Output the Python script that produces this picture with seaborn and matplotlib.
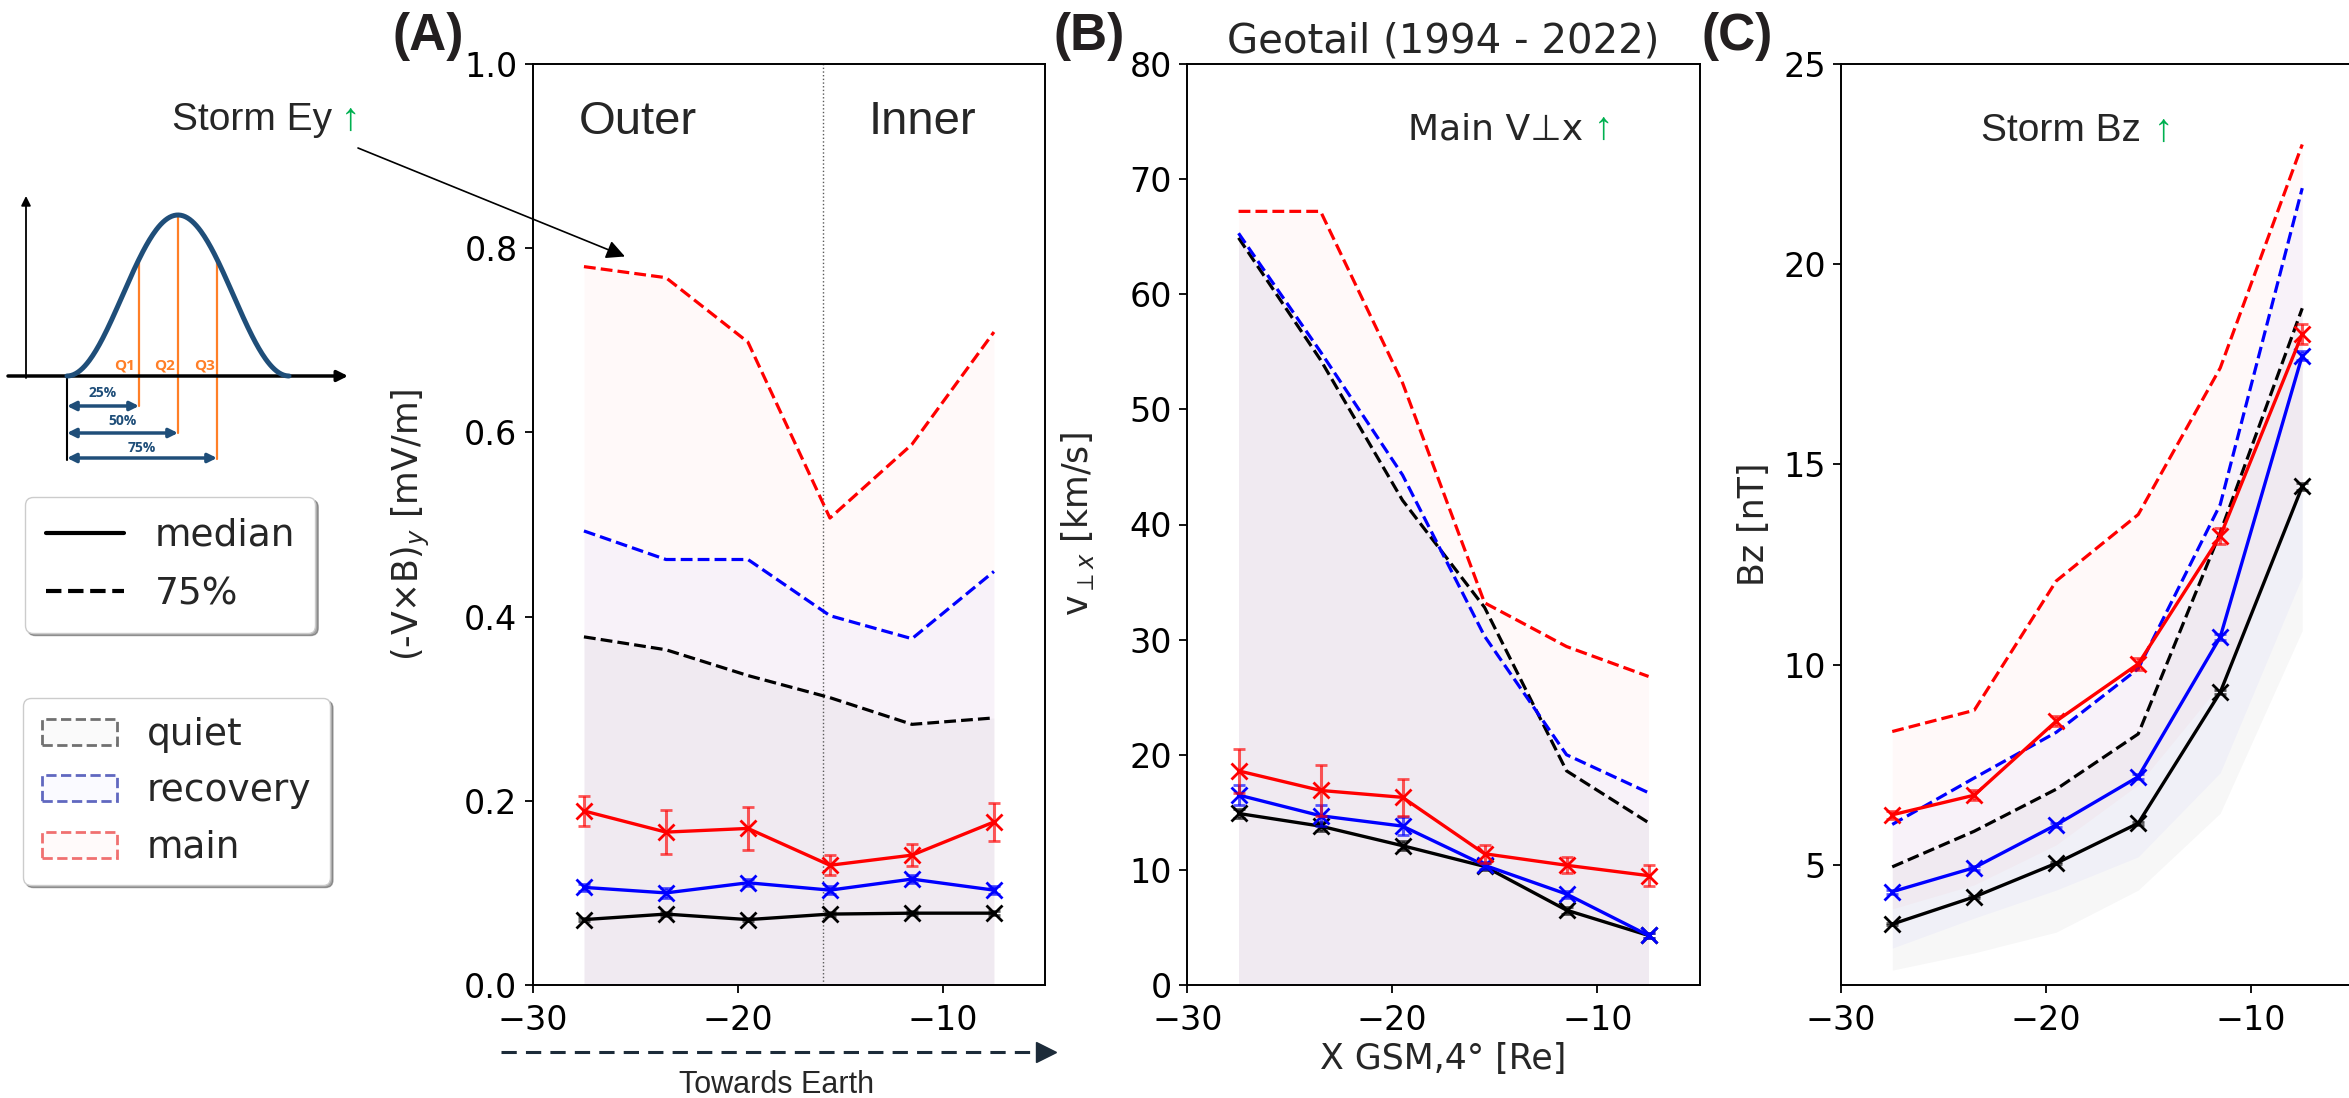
import numpy as np
import pandas as pd
import seaborn as sns
import matplotlib.pyplot as plt
from matplotlib.lines import Line2D
from matplotlib.patches import Patch
from matplotlib.colors import to_rgb

# ---------------------------------------------------------------- data
x_gsm = [-27.5, -23.5, -19.5, -15.5, -11.5, -7.5]
groups = ["quiet", "recovery", "main"]

# (A) dawn-dusk electric field (-VxB)_y [mV/m]
ey_med_quiet = [0.071, 0.077, 0.071, 0.077, 0.078, 0.078]
ey_med_recov = [0.106, 0.100, 0.111, 0.103, 0.115, 0.103]
ey_med_main = [0.189, 0.166, 0.170, 0.130, 0.141, 0.177]
ey_err_quiet = [0.002, 0.002, 0.002, 0.002, 0.002, 0.002]
ey_err_recov = [0.004, 0.005, 0.004, 0.004, 0.004, 0.004]
ey_err_main = [0.016, 0.024, 0.023, 0.011, 0.012, 0.021]
ey_q75_quiet = [0.378, 0.364, 0.336, 0.312, 0.283, 0.290]
ey_q75_recov = [0.493, 0.462, 0.462, 0.401, 0.376, 0.449]
ey_q75_main = [0.780, 0.768, 0.698, 0.507, 0.587, 0.709]

# (B) perpendicular flow velocity v_perp,x [km/s]
v_med_quiet = [14.9, 13.8, 12.1, 10.3, 6.5, 4.3]
v_med_recov = [16.5, 14.7, 13.8, 10.4, 7.9, 4.3]
v_med_main = [18.6, 16.9, 16.3, 11.4, 10.4, 9.5]
v_err_quiet = [0.4, 0.4, 0.4, 0.3, 0.3, 0.2]
v_err_recov = [0.9, 0.9, 0.8, 0.3, 0.3, 0.2]
v_err_main = [1.9, 2.2, 1.6, 0.8, 0.7, 0.9]
v_q75_quiet = [64.9, 54.3, 42.1, 32.8, 18.6, 14.1]
v_q75_recov = [65.3, 55.0, 44.3, 30.3, 20.0, 16.7]
v_q75_main = [67.2, 67.2, 52.3, 33.2, 29.4, 26.8]

# (C) magnetic field Bz [nT]
bz_med_quiet = [3.52, 4.20, 5.04, 6.04, 9.31, 14.45]
bz_med_recov = [4.33, 4.93, 6.00, 7.20, 10.69, 17.72]
bz_med_main = [6.25, 6.74, 8.59, 10.02, 13.21, 18.26]
bz_err_quiet = [0.03, 0.03, 0.03, 0.04, 0.05, 0.08]
bz_err_recov = [0.05, 0.05, 0.05, 0.06, 0.08, 0.12]
bz_err_main = [0.10, 0.12, 0.12, 0.15, 0.20, 0.25]
bz_q75_quiet = [4.95, 5.84, 6.89, 8.27, 13.3, 18.9]
bz_q75_recov = [6.01, 7.17, 8.31, 9.90, 14.0, 21.9]
bz_q75_main = [8.33, 8.86, 12.09, 13.75, 17.41, 22.99]
bz_q25_quiet = [2.37, 2.80, 3.32, 4.37, 6.29, 10.85]
bz_q25_recov = [2.92, 3.67, 4.37, 5.20, 7.30, 12.2]
bz_q25_main = [3.90, 4.50, 5.50, 7.00, 9.50, 14.5]

# ---------------------------------------------------------------- style
W, H, DPI = 2349, 1098, 100
colors = {"quiet": "black", "recovery": "blue", "main": "red"}
fill_alpha = {"quiet": 0.03, "recovery": 0.028, "main": 0.022}
NAVY = "#1F4E79"
ORANGE = "#FF7F27"
GREEN = "#00B050"
ARIAL = ["Liberation Sans", "DejaVu Sans"]

sns.set_theme(style="ticks")
plt.rcParams["font.family"] = ["DejaVu Sans"]
plt.rcParams.update({
    "axes.edgecolor": "black",
    "axes.linewidth": 1.4,
    "axes.facecolor": "white",
    "xtick.color": "black",
    "ytick.color": "black",
    "xtick.major.size": 6,
    "ytick.major.size": 6,
    "xtick.major.width": 1.3,
    "ytick.major.width": 1.3,
    "xtick.labelsize": 24,
    "ytick.labelsize": 24,
    "axes.labelsize": 25,
    "mathtext.fontset": "dejavusans",
})

fig = plt.figure(figsize=(W / DPI, H / DPI), dpi=DPI)


def px_axes(left, right, top, bottom):
    return fig.add_axes([left / W, 1 - bottom / H, (right - left) / W, (bottom - top) / H])


def fig_text(x, y, s, **kw):
    return fig.text(x / W, 1 - y / H, s, va="baseline", **kw)


def draw_panel(ax, med, err, q75, q25=None):
    base = ax.get_ylim()[0]
    for g in groups:
        lower = q25[g] if q25 is not None else [base] * len(x_gsm)
        ax.fill_between(x_gsm, lower, q75[g], color=colors[g],
                        alpha=fill_alpha[g], lw=0, zorder=1)
    for g in groups:
        sns.lineplot(x=x_gsm, y=q75[g], color=colors[g], linestyle="--",
                     lw=2.3, ax=ax, zorder=3)
    for g in groups:
        sns.lineplot(x=x_gsm, y=med[g], color=colors[g], lw=2.4, marker="x",
                     markersize=12, markeredgewidth=2.0,
                     markeredgecolor=colors[g], ax=ax, zorder=4)
        ax.errorbar(x_gsm, med[g], yerr=err[g], fmt="none", ecolor=colors[g],
                    alpha=0.65, elinewidth=2.2, capsize=4, capthick=2.0, zorder=4)
    ax.set_xlim(-30, -5)
    ax.set_xticks([-30, -20, -10])
    ax.set_xlabel("")
    ax.tick_params(axis="y", which="major", pad=5)
    ax.tick_params(axis="x", which="major", pad=8)


# ---------------------------------------------------------------- panels
axA = px_axes(532.7, 1045.2, 64, 985)
axB = px_axes(1187.3, 1699.8, 64, 985)
axC = px_axes(1841, 2353.5, 64, 985)

axA.set_ylim(0, 1.0)
draw_panel(axA,
           {"quiet": ey_med_quiet, "recovery": ey_med_recov, "main": ey_med_main},
           {"quiet": ey_err_quiet, "recovery": ey_err_recov, "main": ey_err_main},
           {"quiet": ey_q75_quiet, "recovery": ey_q75_recov, "main": ey_q75_main})
axA.set_yticks(np.arange(0, 1.01, 0.2))
axA.set_yticklabels([f"{v:.1f}" for v in np.arange(0, 1.01, 0.2)])
axA.axvline(-15.85, color="0.35", lw=1.0, ls=":", zorder=2)
axA.set_ylabel("(-V\u00d7B)$_y$ [mV/m]")
axA.yaxis.set_label_coords(-0.196, 0.5)

axB.set_ylim(0, 80)
draw_panel(axB,
           {"quiet": v_med_quiet, "recovery": v_med_recov, "main": v_med_main},
           {"quiet": v_err_quiet, "recovery": v_err_recov, "main": v_err_main},
           {"quiet": v_q75_quiet, "recovery": v_q75_recov, "main": v_q75_main})
axB.set_yticks(range(0, 81, 10))
axB.set_ylabel("v$_{\\perp x}$ [km/s]")
axB.yaxis.set_label_coords(-0.178, 0.5)
axB.set_xlabel("X GSM,4\u00b0 [Re]", fontsize=25, labelpad=3)
axB.set_title("Geotail (1994 - 2022)", fontsize=29, pad=8)

axC.set_ylim(2, 25)
draw_panel(axC,
           {"quiet": bz_med_quiet, "recovery": bz_med_recov, "main": bz_med_main},
           {"quiet": bz_err_quiet, "recovery": bz_err_recov, "main": bz_err_main},
           {"quiet": bz_q75_quiet, "recovery": bz_q75_recov, "main": bz_q75_main},
           {"quiet": bz_q25_quiet, "recovery": bz_q25_recov, "main": bz_q25_main})
axC.set_yticks(range(5, 26, 5))
axC.set_ylabel("Bz [nT]")
axC.yaxis.set_label_coords(-0.136, 0.5)

for ax in (axA, axB, axC):
    leg = ax.get_legend()
    if leg is not None:
        leg.remove()

# ---------------------------------------------------------------- annotations
panel_font = dict(family=ARIAL, fontsize=37, fontweight="bold", color="#231F20")
fig_text(393, 50, "(A)", **panel_font)
fig_text(1053, 50, "(B)", **panel_font)
fig_text(1701, 50, "(C)", **panel_font)

fig_text(579, 134, "Outer", family=ARIAL, fontsize=34)
fig_text(869, 134, "Inner", family=ARIAL, fontsize=34)

fig_text(172, 130, "Storm Ey", family=ARIAL, fontsize=28)
fig_text(341, 130, "\u2191", family=ARIAL, fontsize=28, color=GREEN)
fig_text(1408, 139, "Main V\u22a5x", fontsize=26)
fig_text(1594, 139, "\u2191", family=ARIAL, fontsize=28, color=GREEN)
fig_text(1981, 141, "Storm Bz", family=ARIAL, fontsize=28)
fig_text(2154, 141, "\u2191", family=ARIAL, fontsize=28, color=GREEN)

axA.annotate("", xy=(-25.5, 0.791), xycoords="data",
             xytext=(358 / W, 1 - 148 / H), textcoords="figure fraction",
             arrowprops=dict(arrowstyle="-|>", color="black", lw=1.2,
                             mutation_scale=28, shrinkA=0, shrinkB=0),
             annotation_clip=False)

# towards-Earth direction arrow under panel A
fig.add_artist(Line2D([501 / W, 1042 / W], [1 - 1052 / H, 1 - 1052 / H],
                      transform=fig.transFigure, color="#1C2B39", lw=2.2,
                      dashes=(5, 3)))
fig.add_artist(Line2D([1046 / W], [1 - 1052 / H], transform=fig.transFigure,
                      marker=">", markersize=15, color="#1C2B39", lw=0))
fig.text(777 / W, 1 - 1093 / H, "Towards Earth", ha="center", va="baseline",
         family=ARIAL, fontsize=22)

# ---------------------------------------------------------------- quartile sketch
axS = fig.add_axes([0, 1 - 470 / H, 360 / W, 285 / H])
axS.set_xlim(0, 360)
axS.set_ylim(470, 185)
axS.axis("off")
base_y, peak_x, half_w, bell_h = 376, 178, 111, 161


def bell(xv):
    return base_y - bell_h * (1 + np.cos(np.pi * (np.asarray(xv) - peak_x) / half_w)) / 2


axS.annotate("", xy=(26, 196), xytext=(26, base_y + 2),
             arrowprops=dict(arrowstyle="-|>", lw=1.3, color="black",
                             mutation_scale=14, shrinkA=0, shrinkB=0))
axS.annotate("", xy=(348, base_y), xytext=(8, base_y),
             arrowprops=dict(arrowstyle="-|>", lw=2.5, color="black",
                             mutation_scale=16, shrinkA=0, shrinkB=0))
xs = np.linspace(peak_x - half_w, peak_x + half_w, 200)
axS.plot(xs, bell(xs), color=NAVY, lw=3.6, solid_capstyle="round", zorder=3)
axS.plot([67, 67], [base_y, 460], color="black", lw=1.5)
for qx, qy_end, qlab, lab_x, pct, arr_y, pct_y in [
        (139, 406, "Q1", 125, "25%", 406, 393),
        (178, 433, "Q2", 165, "50%", 433, 421),
        (217, 459, "Q3", 205, "75%", 458, 448)]:
    axS.plot([qx, qx], [bell(qx), qy_end], color=ORANGE, lw=1.6, zorder=2)
    axS.text(lab_x, 366, qlab, ha="center", va="center", color=ORANGE,
             fontsize=11, fontweight="bold", family=["Open Sans", "DejaVu Sans"])
    axS.annotate("", xy=(qx, arr_y), xytext=(67, arr_y),
                 arrowprops=dict(arrowstyle="<|-|>", lw=2.5, color=NAVY,
                                 mutation_scale=13, shrinkA=0, shrinkB=0))
    axS.text((67 + qx) / 2, pct_y, pct, ha="center", va="center", color=NAVY,
             fontsize=10, fontweight="bold", family=["Open Sans", "DejaVu Sans"])

# ---------------------------------------------------------------- legends
leg_style = dict(loc="upper left", fontsize=27, fancybox=True, shadow=True,
                 framealpha=1, edgecolor="#cccccc", borderaxespad=0,
                 handletextpad=0.8)
leg1 = fig.legend(handles=[Line2D([], [], color="black", lw=3),
                           Line2D([], [], color="black", lw=3, ls="--")],
                  labels=["median", "75%"], handlelength=2.1,
                  labelspacing=0.6, borderpad=0.55,
                  bbox_to_anchor=(25 / W, 1 - 497 / H), **leg_style)
edge_cols = {"quiet": "#707070", "recovery": "#6068C0", "main": "#F07070"}
patches = [Patch(facecolor=(*to_rgb(colors[g]), 0.02), edgecolor=edge_cols[g],
                 linestyle="--", lw=2) for g in groups]
leg2 = fig.legend(handles=patches, labels=groups, handlelength=2.0,
                  labelspacing=0.55, borderpad=0.5,
                  bbox_to_anchor=(23 / W, 1 - 698 / H), **leg_style)

fig.savefig("out.png", dpi=DPI)
